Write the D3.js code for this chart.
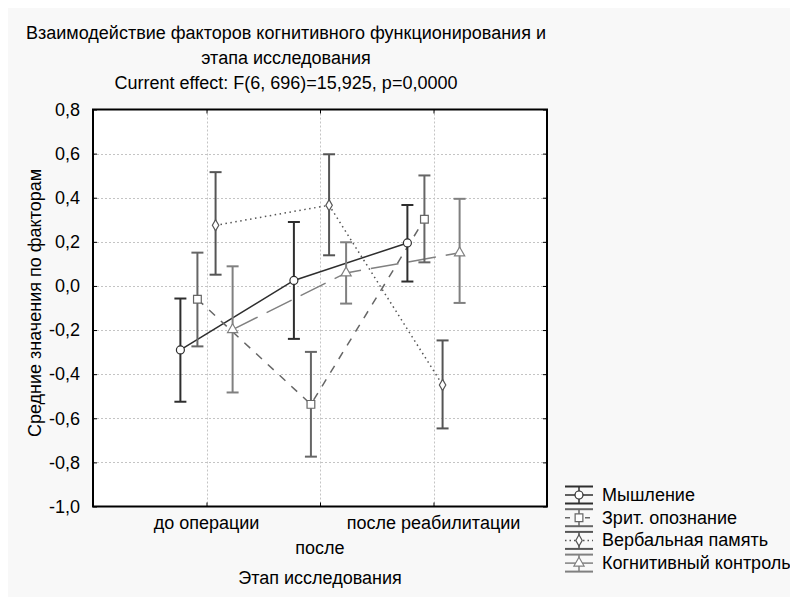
<!DOCTYPE html>
<html>
<head>
<meta charset="utf-8">
<script src="https://cdn.jsdelivr.net/npm/d3@7/dist/d3.min.js"></script>
<style>
  html, body { margin: 0; padding: 0; background: #ffffff; }
  svg { display: block; font-family: "Liberation Sans", Arial, sans-serif; }
</style>
</head>
<body>
<svg id="chart" width="790" height="597"></svg>
<script>
// Stages of the study (x axis)
const categories = ["до операции", "после", "после реабилитации"];

// Factor means with confidence interval bounds per stage
const thinkingMean = [-0.29, 0.025, 0.195];
const thinkingLow  = [-0.525, -0.24, 0.02];
const thinkingHigh = [-0.057, 0.29, 0.367];

const visualMean = [-0.06, -0.537, 0.302];
const visualLow  = [-0.274, -0.774, 0.107];
const visualHigh = [0.151, -0.299, 0.501];

const verbalMean = [0.275, 0.366, -0.449];
const verbalLow  = [0.051, 0.139, -0.646];
const verbalHigh = [0.516, 0.597, -0.247];

const controlMean = [-0.198, 0.059, 0.15];
const controlLow  = [-0.483, -0.08, -0.077];
const controlHigh = [0.089, 0.198, 0.395];

const seriesNames = ["Мышление", "Зрит. опознание", "Вербальная память", "Когнитивный контроль"];
const yTicks = [0.8, 0.6, 0.4, 0.2, 0.0, -0.2, -0.4, -0.6, -0.8, -1.0];

const titleLines = [
  "Взаимодействие факторов когнитивного функционирования и",
  "этапа исследования",
  "Current effect: F(6, 696)=15,925, p=0,0000"
];
const xTitle = "Этап исследования";
const yTitle = "Средние значения по факторам";

const series = [
  { name: seriesNames[0], mean: thinkingMean, low: thinkingLow, high: thinkingHigh,
    color: "#2e2e2e", dash: null, legendDash: null, marker: "circle", shift: -0.23 },
  { name: seriesNames[1], mean: visualMean, low: visualLow, high: visualHigh,
    color: "#666666", dash: "8,8", legendDash: "5,5", marker: "square", shift: -0.08 },
  { name: seriesNames[2], mean: verbalMean, low: verbalLow, high: verbalHigh,
    color: "#555555", dash: "1.5,3.5", legendDash: "1.5,3", marker: "diamond", shift: 0.08 },
  { name: seriesNames[3], mean: controlMean, low: controlLow, high: controlHigh,
    color: "#808080", dash: "28,10", legendDash: null, marker: "triangle", shift: 0.23 }
];

const FONT = 18;
const svg = d3.select("#chart");
const W = 790, H = 597;
const plot = { left: 93, right: 547, top: 109.5, bottom: 506.5 };

// Page background with a light panel
svg.append("rect").attr("width", W).attr("height", H).attr("fill", "#ffffff");
svg.append("rect").attr("x", 8).attr("y", 8).attr("width", W - 8).attr("height", H - 8).attr("fill", "#f8f8f8");

const x = d3.scaleLinear().domain([0, categories.length + 1]).range([plot.left, plot.right]);
const y = d3.scaleLinear().domain([-1.0, 0.8]).range([plot.bottom, plot.top]);

// Plot area
svg.append("rect")
  .attr("x", plot.left).attr("y", plot.top)
  .attr("width", plot.right - plot.left).attr("height", plot.bottom - plot.top)
  .attr("fill", "#ffffff");

// Grid lines
const grid = svg.append("g").attr("stroke", "#c4c4c4").attr("stroke-width", 1).attr("stroke-dasharray", "2,2");
yTicks.slice(1, -1).forEach(t => {
  grid.append("line").attr("x1", plot.left).attr("x2", plot.right)
    .attr("y1", Math.round(y(t)) + 0.5).attr("y2", Math.round(y(t)) + 0.5);
});
categories.forEach((c, i) => {
  grid.append("line").attr("y1", plot.top).attr("y2", plot.bottom)
    .attr("x1", Math.round(x(i + 1)) + 0.5).attr("x2", Math.round(x(i + 1)) + 0.5);
});

// Axes via d3 axis generators (inner ticks on all four sides)
const yAxisL = d3.axisLeft(y).tickValues(yTicks).tickSizeInner(-4).tickSizeOuter(0)
  .tickPadding(13).tickFormat(d => d3.format(".1f")(d).replace(".", ",").replace("−", "-"));
const gy = svg.append("g").attr("transform", `translate(${plot.left},0)`).call(yAxisL);
gy.select(".domain").remove();
gy.selectAll("line").attr("stroke", "#000");
gy.selectAll("text").attr("font-size", FONT).attr("fill", "#000")
  .attr("font-family", "Liberation Sans, Arial, sans-serif");

const yAxisR = d3.axisRight(y).tickValues(yTicks).tickSizeInner(-4).tickSizeOuter(0).tickFormat("");
const gyr = svg.append("g").attr("transform", `translate(${plot.right},0)`).call(yAxisR);
gyr.select(".domain").remove();
gyr.selectAll("line").attr("stroke", "#000");

const xAxisB = d3.axisBottom(x).tickValues(categories.map((c, i) => i + 1))
  .tickSizeInner(-4).tickSizeOuter(0).tickPadding(0).tickFormat("");
const gx = svg.append("g").attr("transform", `translate(0,${plot.bottom})`).call(xAxisB);
gx.select(".domain").remove();
gx.selectAll("line").attr("stroke", "#000");

const xAxisT = d3.axisTop(x).tickValues(categories.map((c, i) => i + 1))
  .tickSizeInner(-4).tickSizeOuter(0).tickFormat("");
const gxt = svg.append("g").attr("transform", `translate(0,${plot.top})`).call(xAxisT);
gxt.select(".domain").remove();
gxt.selectAll("line").attr("stroke", "#000");

// Staggered category labels
categories.forEach((c, i) => {
  svg.append("text")
    .attr("x", x(i + 1)).attr("y", i % 2 === 0 ? 529 : 554)
    .attr("text-anchor", "middle").attr("font-size", FONT).attr("fill", "#000")
    .text(c);
});

// Frame
svg.append("rect")
  .attr("x", plot.left).attr("y", plot.top)
  .attr("width", plot.right - plot.left).attr("height", plot.bottom - plot.top)
  .attr("fill", "none").attr("stroke", "#000").attr("stroke-width", 2);

// Titles
titleLines.forEach((t, i) => {
  svg.append("text").attr("x", 286).attr("y", 39 + i * 25)
    .attr("text-anchor", "middle").attr("font-size", FONT).attr("fill", "#000").text(t);
});
svg.append("text").attr("x", 320).attr("y", 584)
  .attr("text-anchor", "middle").attr("font-size", FONT).attr("fill", "#000").text(xTitle);
svg.append("text")
  .attr("transform", `translate(41,303) rotate(-90)`)
  .attr("text-anchor", "middle").attr("font-size", FONT).attr("fill", "#000").text(yTitle);

// Marker shapes
const markerPath = {
  circle: d3.symbol(d3.symbolCircle, 50),
  square: d3.symbol(d3.symbolSquare, 60),
  diamond: d3.symbol(d3.symbolDiamond, 36),
  triangle: d3.symbol(d3.symbolTriangle, 45)
};

const capHalf = 6;
const line = d3.line().x(d => d[0]).y(d => d[1]);

// Connecting lines
series.forEach(s => {
  const pts = s.mean.map((m, i) => [x(i + 1 + s.shift), y(m)]);
  svg.append("path").attr("d", line(pts)).attr("fill", "none")
    .attr("stroke", s.color).attr("stroke-width", 1.5)
    .attr("stroke-dasharray", s.dash);
});

// Error bars
series.forEach(s => {
  const g = svg.append("g").attr("stroke", s.color).attr("stroke-width", 2);
  s.mean.forEach((m, i) => {
    const cx = x(i + 1 + s.shift);
    g.append("line").attr("x1", cx).attr("x2", cx).attr("y1", y(s.low[i])).attr("y2", y(s.high[i]));
    g.append("line").attr("x1", cx - capHalf).attr("x2", cx + capHalf).attr("y1", y(s.low[i])).attr("y2", y(s.low[i]));
    g.append("line").attr("x1", cx - capHalf).attr("x2", cx + capHalf).attr("y1", y(s.high[i])).attr("y2", y(s.high[i]));
  });
});

// Markers
series.forEach(s => {
  s.mean.forEach((m, i) => {
    svg.append("path").attr("d", markerPath[s.marker]())
      .attr("transform", `translate(${x(i + 1 + s.shift)},${y(m)})`)
      .attr("fill", "#ffffff").attr("stroke", s.color).attr("stroke-width", 1.2);
  });
});

// Legend
const legX = 565, legW = 28, legY0 = 495, legStep = 22.7;
series.forEach((s, k) => {
  const cy = legY0 + k * legStep;
  const g = svg.append("g");
  g.append("line").attr("x1", legX).attr("x2", legX + legW).attr("y1", cy - 8.5).attr("y2", cy - 8.5)
    .attr("stroke", s.color).attr("stroke-width", 2);
  g.append("line").attr("x1", legX).attr("x2", legX + legW).attr("y1", cy + 8.5).attr("y2", cy + 8.5)
    .attr("stroke", s.color).attr("stroke-width", 2);
  g.append("line").attr("x1", legX + legW / 2).attr("x2", legX + legW / 2).attr("y1", cy - 8.5).attr("y2", cy + 8.5)
    .attr("stroke", s.color).attr("stroke-width", 1.5);
  g.append("line").attr("x1", legX).attr("x2", legX + legW).attr("y1", cy).attr("y2", cy)
    .attr("stroke", s.color).attr("stroke-width", 1.5)
    .attr("stroke-dasharray", s.legendDash);
  g.append("path").attr("d", markerPath[s.marker]())
    .attr("transform", `translate(${legX + legW / 2},${cy})`)
    .attr("fill", "#ffffff").attr("stroke", s.color).attr("stroke-width", 1.2);
  g.append("text").attr("x", legX + legW + 9).attr("y", cy + 6)
    .attr("font-size", FONT).attr("fill", "#000").text(s.name);
});
</script>
</body>
</html>
